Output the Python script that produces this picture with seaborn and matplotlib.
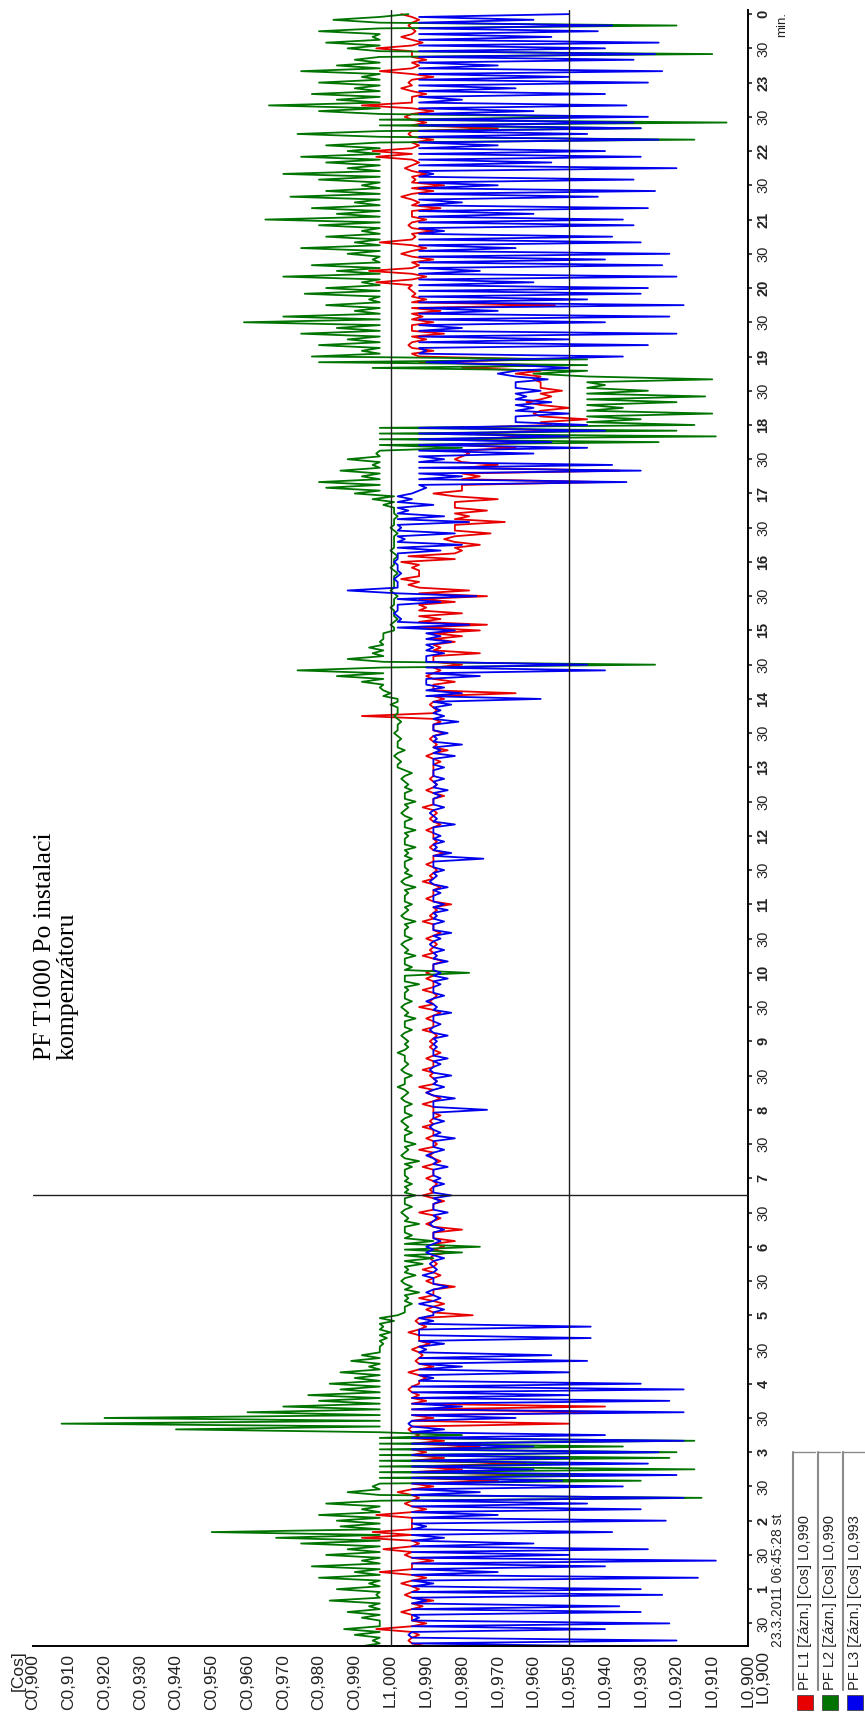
import numpy as np
import pandas as pd
import matplotlib
matplotlib.use("Agg")
import matplotlib.pyplot as plt
from matplotlib.patches import Rectangle
from matplotlib.lines import Line2D
from matplotlib import font_manager
import seaborn as sns

W, H = 865, 1713

# ---------------- data (values in thousandths: negative = capacitive C, positive = inductive L)
start_minute = 10      # 0:10
step_minutes = 5       # one reading every 5 minutes up to 24:00

# readings (spike / extreme values) every 5 minutes
pf_l1 = [10, 5, 8, -4, 10, 6, 3, 9, 12, 4,
         8, 3, 10, -3, 6, 12, 4, -2, 8, -8, -5, 6,
         6, -4, 10, 4, 8, 2, 12, 30, 45, 20, 38, 15,
         10, 25, 15, 8, 5, 50, 12, 66, 60, 10, 8, 5,
         8, 10, 5, 12, 7, 9, 6, 11, 8, 5, 10, 7,
         23, 10, 15, 8, 12, 18, 10, 14, 9, 13, 11, 16,
         15, 18, 12, 20, 10, 14, 8, 12, 15, 9, 11, 13,
         10, 12, 9, 14, 11, 8, 13, 10, 12, 9, 11, 14,
         12, 9, 14, 10, 8, 13, 11, 9, 12, 10, 14, 11,
         11, 13, 9, 12, 10, 14, 8, 11, 13, 9, 12, 10,
         10, 12, 15, 9, 11, 13, 10, 14, 12, 9, 11, 13,
         17, 10, 12, 14, 9, 11, 13, 10, 12, 15, 11, 13,
         12, 10, 14, 11, 13, 9, 12, 15, 10, 13, 11, 12,
         12, 14, 10, 16, 13, 11, 15, 12, 14, -8, 13, 11,
         15, 35, 12, 18, 10, 14, 20, 12, 25, 14, 18, 20,
         25, 27, 14, 20, 10, 18, 27, 22, 5, 3, 8, 6,
         3, 5, 20, 25, 15, 28, 18, 32, 22, 27, 18, 30,
         12, 20, 59, 25, 64, 30, 18, 22, 35, 45, 40, 50,
         45, 55, 40, 50, 38, 45, 48, 42, 40, 35, 20, 8,
         8, 12, 5, 10, 15, 6, 12, 9, 14, 46, 10, 7,
         5, -4, 10, -6, 8, 12, 3, 10, -3, 7, 12, 5,
         10, 6, 14, 8, 3, 12, 15, 7, 10, 4, 8, -4,
         -5, 8, 12, 5, 30, 10, 4, 12, -8, 6, 10, 3,
         5, 12, -3, 8, 10, 6, -4, 9, 3, 7, 5, 8,
         3]

pf_l2 = [-8, -5, -10, -13, -3, -8, -12, -6, -17, -4,
         -15, -6, -20, -10, -22, -8, -18, -12, -25, -32, -50, -14,
         -15, -20, -8, -18, 87, -12, -5, 70, 55, 85, 60, 78,
         80, 65, 85, 20, -60, -92, -80, -40, -30, -20, -23, -14,
         -17, -10, -14, -6, -11, -8, -3, -2, -1, 0, -2, 1,
         2, 4, 6, 5, 8, 6, 3, 7, 5, 9, 12, 20,
         25, 12, 6, 4, 8, 5, 3, 6, 4, 7, 5, 6,
         5, 4, 6, 8, 3, 5, 7, 4, 6, 5, 3, 6,
         4, 6, 3, 5, 2, 4, 6, 3, 5, 4, 2, 5,
         5, 3, 6, 4, 7, 5, 3, 6, 4, 5, 8, 4,
         22, 6, 4, 7, 5, 3, 6, 4, 5, 7, 3, 5,
         6, 4, 5, 7, 3, 6, 5, 4, 6, 5, 7, 4,
         5, 7, 4, 6, 3, 5, 7, 4, 6, 5, 3, 6,
         2, 3, 1, 4, 2, 3, 1, 2, 3, 1, 2, 0,
         2, 0, -3, -8, -15, -26, 74, -12, -5, -6, -3, -2,
         1, 0, 2, 1, 0, 1, 2, 0, 1, 1, 2, 0,
         1, 2, 0, 1, 1, 2, 0, 1, 2, 1, -2, -5,
         -10, -18, -20, -8, -14, -5, -12, -4, 20, 75, 91, 80,
         85, 70, 90, 65, 80, 88, 72, 60, 90, 40, -5, -20,
         -22, -8, -20, -12, -25, -15, -41, -30, -10, -18, -6, -24,
         -18, -8, -30, -15, -22, -5, -12, -25, -10, -18, -8, -20,
         -35, -15, -22, -10, -28, -18, -8, -20, -30, -12, -18, -25,
         -12, -18, 85, -26, 70, 94, 60, -20, -34, -15, -22, -10,
         -20, -8, -25, -15, -10, 90, -12, -18, -5, -20, 80, -16,
         5]

pf_l3 = [60, 80, 5, 60, 78, 8, 70, 64, 10, 76,
         70, 12, 86, 30, 60, 91, 50, 72, 40, 15, 62, 10,
         77, 30, 70, 55, 82, 25, 65, 48, 80, 40, 72, 50,
         75, 40, 82, 60, 15, 5, 35, 82, 20, 78, 50, 82,
         70, 12, 50, 20, 55, 45, 10, 15, 56, 8, 56, 12,
         12, 15, 8, 14, 10, 16, 12, 9, 13, 11, 15, 10,
         10, 14, 12, 15, 11, 13, 16, 12, 14, 17, 12, 15,
         14, 12, 16, 13, 10, 15, 12, 18, 14, 11, 15, 12,
         27, 12, 18, 10, 15, 13, 17, 11, 14, 16, 12, 13,
         13, 16, 11, 14, 12, 17, 13, 10, 15, 12, 14, 16,
         14, 12, 16, 13, 15, 11, 14, 17, 12, 15, 13, 16,
         15, 12, 14, 16, 11, 13, 15, 12, 26, 17, 13, 15,
         14, 12, 18, 13, 11, 15, 12, 14, 16, 13, 15, 12,
         15, 12, 18, 14, 20, 13, 16, 12, 19, 15, 14, 17,
         42, 20, 15, 10, 25, 60, 55, 10, 15, 12, 17, 14,
         18, 22, 3, 1, 2, 14, 24, -12, 2, 1, 3, 2,
         1, 2, 14, 20, 4, 18, 3, 22, 15, 5, 12, 6,
         6, 10, 66, 20, 70, 62, 15, 40, 55, 45, 50, 60,
         55, 35, 50, 40, 45, 38, 42, 35, 44, 30, 50, 10,
         65, 10, 72, 50, 80, 20, 60, 78, 30, 82, 55, 70,
         72, 40, 80, 25, 76, 60, 78, 35, 70, 62, 15, 68,
         65, 40, 72, 20, 58, 74, 30, 68, 12, 80, 45, 70,
         60, 30, 75, 55, 70, 68, 72, 40, 66, 20, 60, 35,
         72, 50, 76, 30, 68, 74, 60, 75, 45, 58, 62, 40,
         50]

# base level of each phase for every hour 0..23 (read between the spikes)
base_l1 = [6, 6, 6, 6, 8, 12, 12, 12, 12, 12, 12, 12, 12, 12, 12, 8, 18, 20, 42, 6, 6, 6, 6, 6]
base_l2 = [-3, -3, -3, -3, -3, 4, 4, 4, 4, 4, 4, 4, 4, 2, -2, 1, 1, -3, 55, -3, -3, -3, -3, -3]
base_l3 = [6, 6, 6, 6, 8, 12, 12, 12, 12, 12, 12, 12, 12, 12, 10, 2, 2, 8, 35, 8, 8, 8, 8, 8]

series_names = ["PF L1 [Zázn.] [Cos] L0,990",
                "PF L2 [Zázn.] [Cos] L0,990",
                "PF L3 [Zázn.] [Cos] L0,993"]
series_colors = ["#e80000", "#007400", "#0000ee"]

value_ticks = list(range(-100, 101, 10))
value_labels = ["C0,900", "C0,910", "C0,920", "C0,930", "C0,940", "C0,950",
                "C0,960", "C0,970", "C0,980", "C0,990", "L1,000",
                "L0,990", "L0,980", "L0,970", "L0,960", "L0,950",
                "L0,940", "L0,930", "L0,920", "L0,910", "L0,900"]

time_labels = ["30", "1", "30", "2", "30", "3", "30", "4", "30", "5", "30", "6",
               "30", "7", "30", "8", "30", "9", "30", "10", "30", "11", "30", "12",
               "30", "13", "30", "14", "30", "15", "30", "16", "30", "17", "30", "18",
               "30", "19", "30", "20", "30", "21", "30", "22", "30", "23", "30", "0"]

title_text = "PF T1000 Po instalaci\nkompenzátoru"
date_text = "23.3.2011 06:45:28 st"
cursor_hour = 6 + 45 / 60 + 28 / 3600
ref_values = [0, 50]

# ---------------- style
sns.set_style("white")
names = {f.name for f in font_manager.fontManager.ttflist}
narrow = "Liberation Sans Narrow" if "Liberation Sans Narrow" in names else "Liberation Sans"
plt.rcParams["font.family"] = [narrow, "DejaVu Sans"]

n = len(pf_l1)
t_read = (start_minute + step_minutes * np.arange(n)) / 60.0
t_base = t_read[:-1] + step_minutes / 120.0
hr = np.floor(t_base).astype(int)
frames = []
for name, vals, base in zip(series_names, [pf_l1, pf_l2, pf_l3], [base_l1, base_l2, base_l3]):
    frames.append(pd.DataFrame({"time": t_read, "value": vals, "phase": name}))
    frames.append(pd.DataFrame({"time": t_base, "value": np.asarray(base)[hr], "phase": name}))
df = pd.concat(frames, ignore_index=True)

fig = plt.figure(figsize=(W / 100, H / 100), dpi=100)
ax_l, ax_r, ax_t, ax_b = 33, 748, 10, 1646
ax = fig.add_axes([ax_l / W, 1 - ax_b / H, (ax_r - ax_l) / W, (ax_b - ax_t) / H])

sns.lineplot(data=df, x="value", y="time", hue="phase", hue_order=series_names,
             palette=dict(zip(series_names, series_colors)), orient="y",
             sort=True, estimator=None, lw=1.3, legend=False, ax=ax, zorder=2)

ax.set_xlim(-100, 100)
ax.set_ylim(0.17, 24.06)
for v in ref_values:
    ax.axvline(v, color="#202020", lw=1.0, zorder=3)
ax.axhline(cursor_hour, color="#202020", lw=1.0, zorder=3)

for s in ["top", "left"]:
    ax.spines[s].set_visible(False)
for s in ["bottom", "right"]:
    ax.spines[s].set_color("black")
    ax.spines[s].set_linewidth(1.4)

ax.set_xticks(value_ticks)
ax.set_xticklabels(value_labels, rotation=90, va="top", ha="center", fontsize=12.5, color="#222")
ax.tick_params(axis="x", direction="out", length=4, width=1, pad=2, colors="#222")

ax.yaxis.tick_right()
ax.set_yticks(np.arange(0.5, 24.01, 0.5))
ax.set_yticklabels(time_labels, rotation=90, va="center", ha="left", fontsize=10.5, color="#222")
for lbl, t in zip(ax.get_yticklabels(), time_labels):
    if t != "30":
        lbl.set_fontweight("bold")
ax.tick_params(axis="y", direction="out", length=3, width=1.2, pad=3, colors="#222")
ax.set_xlabel("")
ax.set_ylabel("")

# extra axis texts
fig.text(18 / W, 1 - 1650 / H, "[Cos]", rotation=90, ha="center", va="top", fontsize=12.5, color="#222")
fig.text(763 / W, 1 - 1650 / H, "L0,900", rotation=90, ha="center", va="top", fontsize=12.5, color="#222")
fig.text(782 / W, 1 - 12 / H, "min.", rotation=90, ha="center", va="top", fontsize=9.5, color="#222")
fig.text(778 / W, 1 - 1647 / H, date_text, rotation=90, ha="center", va="bottom", fontsize=10, color="#222")

# title
fig.text(34 / W, 1 - 1060 / H, title_text, rotation=90, ha="left", va="bottom",
         multialignment="left", linespacing=1.05, fontsize=18.5,
         family=["Liberation Serif", "DejaVu Serif"], color="black")

# legend (rotated rows)
for i, (name, col) in enumerate(zip(series_names, series_colors)):
    xc = 805 + 25 * i
    fig.add_artist(Line2D([(xc - 12) / W] * 2, [1 - 1452 / H, 1 - 1690 / H],
                          color="#8a8a8a", lw=1.5, transform=fig.transFigure))
    fig.add_artist(Line2D([(xc - 12) / W, (xc + 10) / W], [1 - 1452 / H] * 2,
                          color="#8a8a8a", lw=1.0, transform=fig.transFigure))
    fig.add_artist(Rectangle(((xc - 8) / W, 1 - 1710 / H), 16 / W, 15 / H,
                             facecolor=col, edgecolor="#444", lw=0.6,
                             transform=fig.transFigure))
    fig.text(xc / W, 1 - 1690 / H, name, rotation=90, ha="center", va="bottom",
             fontsize=10.5, color="#222")

fig.savefig("out.png", dpi=100)
